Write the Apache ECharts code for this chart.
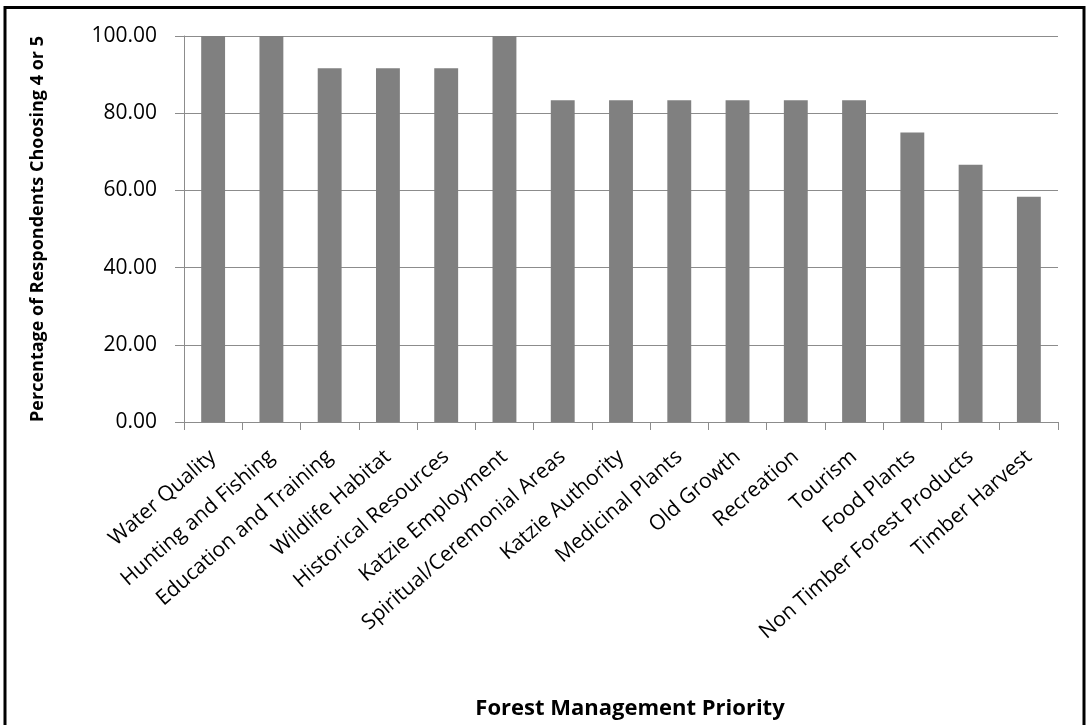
<!DOCTYPE html>
<html>
<head>
<meta charset="utf-8">
<style>
html,body{margin:0;padding:0;background:#fff;}
#chart{width:1089px;height:725px;}
</style>
<script src="https://cdn.jsdelivr.net/npm/echarts@6/dist/echarts.min.js"></script>
</head>
<body>
<div id="chart"></div>
<script>
const categories = [
  "Water Quality", "Hunting and Fishing", "Education and Training", "Wildlife Habitat",
  "Historical Resources", "Katzie Employment", "Spiritual/Ceremonial Areas", "Katzie Authority",
  "Medicinal Plants", "Old Growth", "Recreation", "Tourism", "Food Plants",
  "Non Timber Forest Products", "Timber Harvest"
];
const percentages = [100, 100, 91.67, 91.67, 91.67, 100, 83.33, 83.33, 83.33, 83.33, 83.33, 83.33, 75, 66.67, 58.33];
const yTitle = "Percentage of Respondents Choosing 4 or 5";
const xTitle = "Forest Management Priority";

const FONT = "'Open Sans', sans-serif";
const chart = echarts.init(document.getElementById('chart'), null, {renderer: 'canvas'});
chart.setOption({
  animation: false,
  backgroundColor: '#fff',
  grid: {left: 184, right: 31, top: 36, bottom: 299, containLabel: false},
  graphic: [{
    type: 'rect', silent: true,
    shape: {x: 5, y: 7.5, width: 1079, height: 740},
    style: {fill: 'none', stroke: '#000', lineWidth: 3}
  }],
  xAxis: {
    type: 'category',
    data: categories,
    boundaryGap: true,
    name: xTitle,
    nameLocation: 'middle',
    nameGap: 276,
    nameTextStyle: {fontFamily: FONT, fontSize: 22, fontWeight: 'bold', color: '#000', padding: [0, 0, 0, 18]},
    axisLine: {lineStyle: {color: '#8c8c8c', width: 1}},
    axisTick: {show: true, length: 8, alignWithLabel: false, lineStyle: {color: '#8c8c8c'}},
    axisLabel: {interval: 0, rotate: 41, margin: 32, fontFamily: FONT, fontSize: 21, color: '#000'},
    splitLine: {show: false}
  },
  yAxis: {
    type: 'value',
    min: 0, max: 100, interval: 20,
    name: yTitle,
    nameLocation: 'middle',
    nameGap: 137,
    nameTextStyle: {fontFamily: FONT, fontSize: 18, fontWeight: 'bold', color: '#000'},
    axisLine: {show: true, lineStyle: {color: '#8c8c8c', width: 1}},
    axisTick: {show: true, length: 9, lineStyle: {color: '#8c8c8c'}},
    axisLabel: {margin: 27, fontFamily: FONT, fontSize: 21, color: '#000',
      formatter: v => v.toFixed(2)},
    splitLine: {show: true, lineStyle: {color: '#8c8c8c', width: 1}}
  },
  series: [{
    type: 'bar',
    data: percentages,
    barWidth: '41%',
    itemStyle: {color: '#808080'}
  }]
});
</script>
</body>
</html>
